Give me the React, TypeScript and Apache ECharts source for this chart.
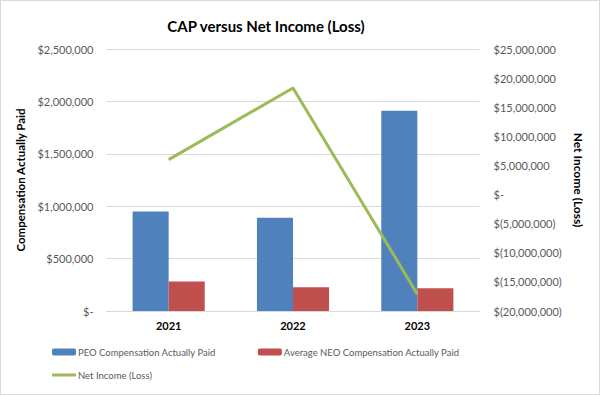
import React, { useEffect, useRef } from "react";
import * as echarts from "echarts";

const categories = ["2021", "2022", "2023"];
const peoCap = [950000, 890000, 1910000];
const neoCap = [282000, 226000, 216000];
const netIncome = [6000000, 18300000, -17100000];

const FONT = "Lato, 'Liberation Sans', sans-serif";

function fmtLeft(v: number) {
  if (v === 0) return "$-";
  return "$" + v.toLocaleString("en-US");
}
function fmtRight(v: number) {
  if (v === 0) return "$-";
  if (v < 0) return "$(" + Math.abs(v).toLocaleString("en-US") + ")";
  return "$" + v.toLocaleString("en-US");
}

export default function App() {
  const ref = useRef<HTMLDivElement>(null);
  useEffect(() => {
    if (!ref.current) return;
    const chart = echarts.init(ref.current, null, { renderer: "svg" });
    chart.setOption({
      animation: false,
      backgroundColor: "#ffffff",
      textStyle: { fontFamily: FONT },
      title: {
        text: "CAP versus Net Income (Loss)",
        left: 260,
        textAlign: "center",
        top: 12,
        textStyle: { fontFamily: FONT, fontSize: 15, fontWeight: "bold", color: "#000000" },
      },
      grid: { left: 105.5, right: 119.5, top: 48, bottom: 83 },
      legend: [
        {
          left: 46,
          top: 341,
          itemWidth: 24,
          itemHeight: 7,
          itemGap: 42,
          textStyle: { fontFamily: FONT, fontSize: 9.5, color: "#595959", padding: [0, 0, 0, -3] },
          data: ["PEO Compensation Actually Paid", "Average NEO Compensation Actually Paid"],
        },
        {
          left: 46,
          top: 364,
          itemWidth: 24,
          itemHeight: 3,
          textStyle: { fontFamily: FONT, fontSize: 9.5, color: "#595959", padding: [0, 0, 0, -3] },
          data: [{ name: "Net Income (Loss)", icon: "rect" }],
        },
      ],
      xAxis: {
        type: "category",
        data: categories,
        axisTick: { show: false },
        axisLine: { show: true, lineStyle: { color: "#d9d9d9", width: 1 } },
        axisLabel: { fontFamily: FONT, fontSize: 11, fontWeight: "bold", color: "#000000", margin: 9 },
      },
      yAxis: [
        {
          type: "value",
          min: 0,
          max: 2500000,
          interval: 500000,
          name: "Compensation Actually Paid",
          nameLocation: "middle",
          nameRotate: 90,
          nameGap: 79,
          nameTextStyle: { fontFamily: FONT, fontSize: 11.5, fontWeight: "bold", color: "#000000" },
          axisLine: { show: false },
          axisTick: { show: false },
          splitLine: { lineStyle: { color: "#d9d9d9", width: 1 } },
          axisLabel: { formatter: fmtLeft, fontFamily: FONT, fontSize: 11, color: "#595959", margin: 13 },
        },
        {
          type: "value",
          position: "right",
          min: -20000000,
          max: 25000000,
          interval: 5000000,
          name: "Net Income (Loss)",
          nameLocation: "middle",
          nameRotate: -90,
          nameGap: 90,
          nameTextStyle: { fontFamily: FONT, fontSize: 12, fontWeight: "bold", color: "#000000" },
          axisLine: { show: false },
          axisTick: { show: false },
          splitLine: { show: false },
          axisLabel: { formatter: fmtRight, fontFamily: FONT, fontSize: 11, color: "#595959", margin: 14 },
        },
      ],
      series: [
        {
          name: "PEO Compensation Actually Paid",
          type: "bar",
          data: peoCap,
          barGap: "0%",
          barCategoryGap: "42%",
          itemStyle: { color: "#4F81BD" },
        },
        {
          name: "Average NEO Compensation Actually Paid",
          type: "bar",
          data: neoCap,
          itemStyle: { color: "#C0504D" },
        },
        {
          name: "Net Income (Loss)",
          type: "line",
          yAxisIndex: 1,
          data: netIncome,
          symbol: "none",
          lineStyle: { color: "#9BBB59", width: 3 },
          itemStyle: { color: "#9BBB59" },
        },
      ],
    });
    return () => chart.dispose();
  }, []);
  return (
    <div
      ref={ref}
      style={{ width: 598, height: 393, border: "1px solid #d9d9d9", position: "absolute", left: 0, top: 0 }}
    />
  );
}
